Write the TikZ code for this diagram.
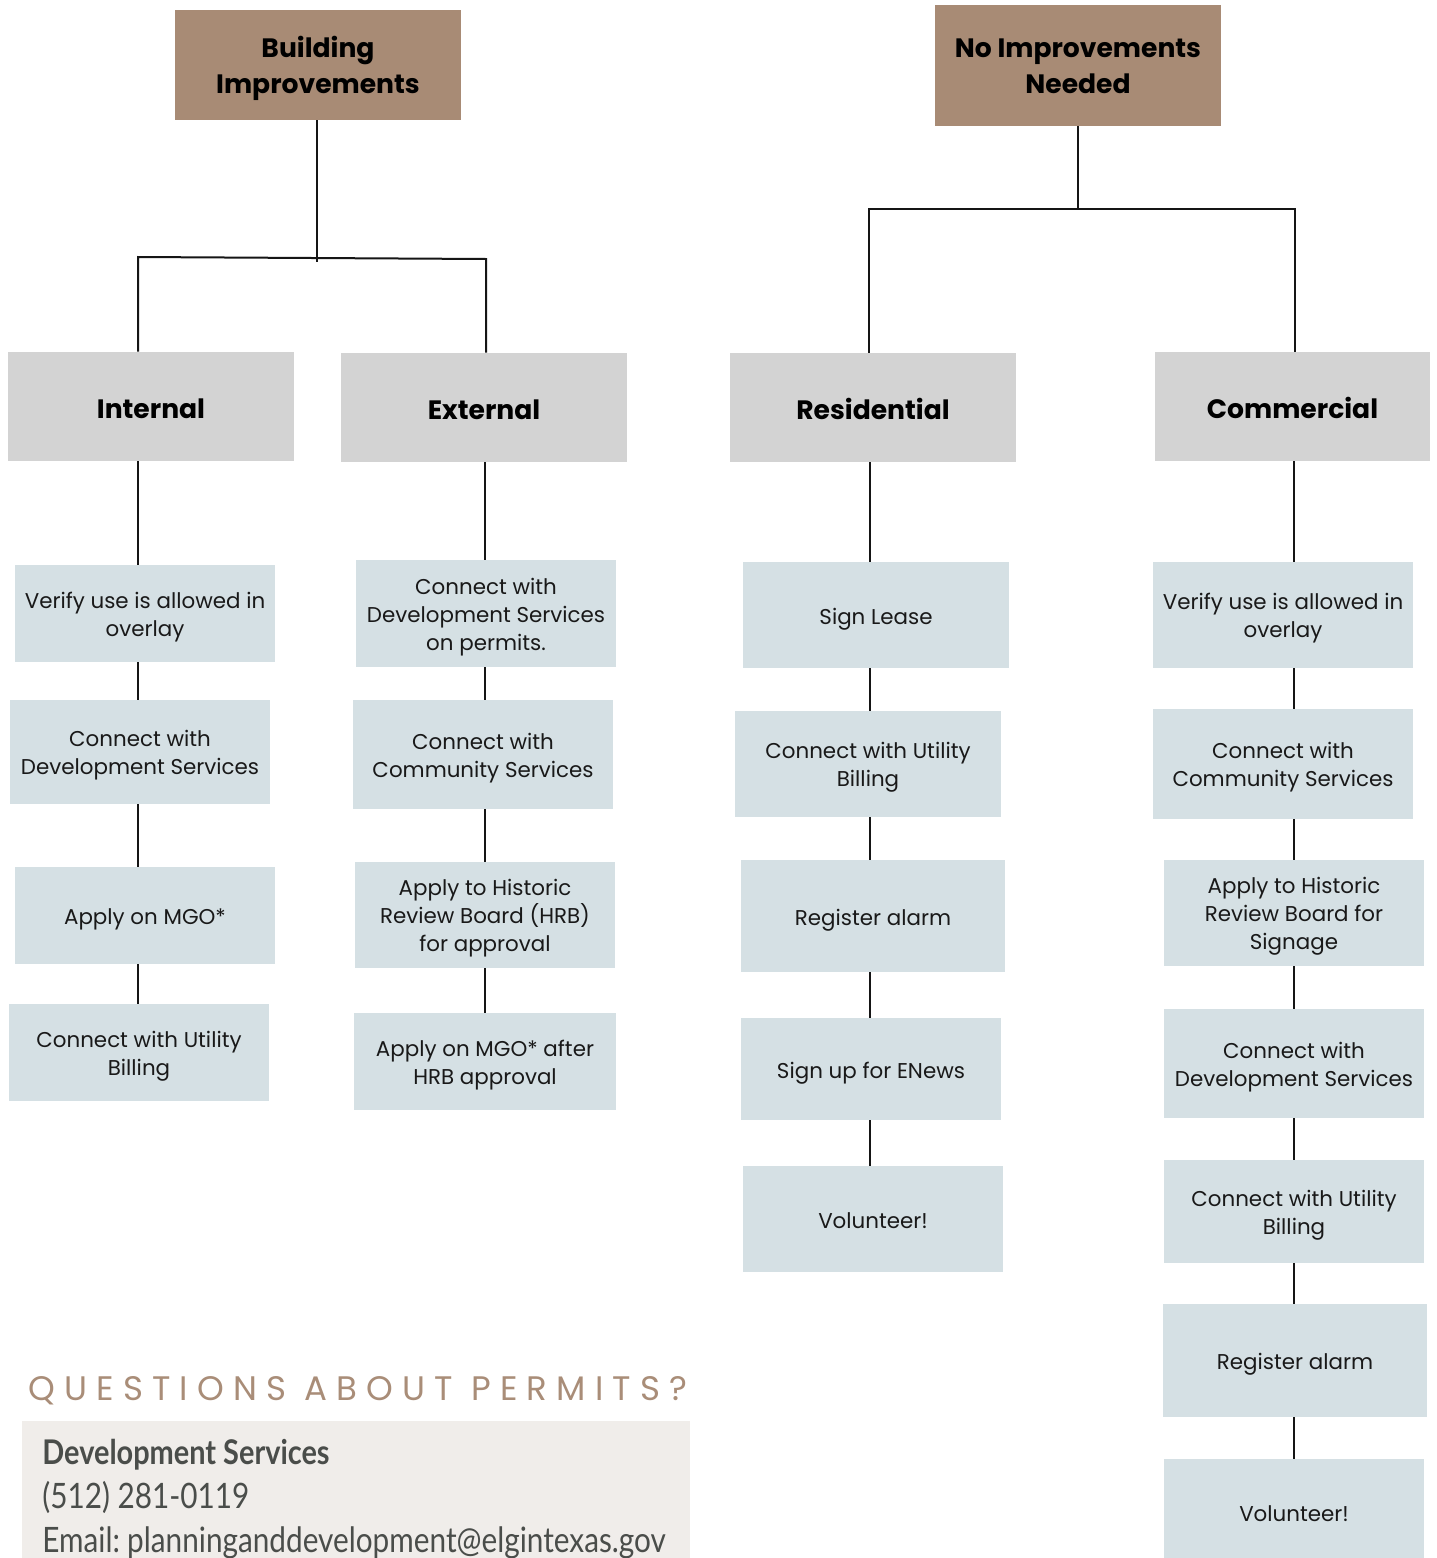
\documentclass[tikz,border=0pt]{standalone}
\usepackage{fontspec}
\setmainfont{Poppins}
\newfontfamily\contactfont[FakeStretch=0.85]{Lato}
\newfontfamily\qfont[LetterSpace=27]{Poppins}
\definecolor{tan}{HTML}{A88B75}
\definecolor{catgray}{HTML}{D3D3D3}
\definecolor{stepblue}{HTML}{D5E0E4}
\definecolor{contactbg}{HTML}{F0EDEA}
\definecolor{qcol}{HTML}{A98D78}
\definecolor{ctext}{HTML}{4A4D4A}
\definecolor{linecol}{HTML}{151515}
\tikzset{
  wh/.style 2 args={minimum width=#1*0.5pt, minimum height=#2*0.5pt},
  topbox/.style={fill=tan, inner sep=0pt, align=center, text=black,
    font=\fontsize{13.3}{18}\selectfont\bfseries, text height=28pt, text depth=0pt},
  catbox/.style={fill=catgray, inner sep=0pt, align=center, text=black,
    font=\fontsize{13.3}{18}\selectfont\bfseries, text height=12.3pt, text depth=0pt},
  stepbox/.style={fill=stepblue, inner sep=0pt, align=center, text=black!90,
    font=\fontsize{10.7}{14}\selectfont, text depth=0pt},
  l1/.style={text height=9pt},
  l2/.style={text height=22.5pt},
  l3/.style={text height=36.5pt},
  conn/.style={draw=linecol, line width=1pt},
}
\begin{document}
\begin{tikzpicture}[x=0.5pt, y=-0.5pt]
\useasboundingbox (0,0) rectangle (1436,1558);
\fill[white] (0,0) rectangle (1436,1558);

% top boxes
\node[topbox, wh={286}{110}] (bi) at (318,65) {Building\\Improvements};
\node[topbox, wh={286}{121}] (ni) at (1078,65.5) {No Improvements\\Needed};

% categories
\node[catbox, wh={286}{109}] (int) at (151,406.5) {Internal};
\node[catbox, wh={286}{109}] (ext) at (484,407.5) {External};
\node[catbox, wh={286}{109}] (res) at (873,407.5) {Residential};
\node[catbox, wh={275}{109}] (com) at (1292.5,406.5) {Commercial};

% internal
\node[stepbox, l2, wh={260}{97}]  (i1) at (145,613.5) {Verify use is allowed in\\overlay};
\node[stepbox, l2, wh={260}{104}] (i2) at (140,752) {Connect with\\Development Services};
\node[stepbox, l1, wh={260}{97}]  (i3) at (145,915.5) {Apply on MGO*};
\node[stepbox, l2, wh={260}{97}]  (i4) at (139,1052.5) {Connect with Utility\\Billing};

% external
\node[stepbox, l3, wh={260}{107}] (e1) at (486,613.5) {Connect with\\Development Services\\on permits.};
\node[stepbox, l2, wh={260}{109}] (e2) at (483,754.5) {Connect with\\Community Services};
\node[stepbox, l3, wh={260}{106}] (e3) at (485,915) {Apply to Historic\\Review Board (HRB)\\for approval};
\node[stepbox, l2, wh={262}{97}]  (e4) at (485,1061.5) {Apply on MGO* after\\HRB approval};

% residential
\node[stepbox, l1, wh={266}{106}] (r1) at (876,615) {Sign Lease};
\node[stepbox, l2, wh={266}{106}] (r2) at (868,764) {Connect with Utility\\Billing};
\node[stepbox, l1, wh={264}{112}] (r3) at (873,916) {Register alarm};
\node[stepbox, l1, wh={260}{102}] (r4) at (871,1069) {Sign up for ENews};
\node[stepbox, l1, wh={260}{106}] (r5) at (873,1219) {Volunteer!};

% commercial
\node[stepbox, l2, wh={260}{106}] (c1) at (1283,615) {Verify use is allowed in\\overlay};
\node[stepbox, l2, wh={260}{110}] (c2) at (1283,764) {Connect with\\Community Services};
\node[stepbox, l3, wh={260}{106}] (c3) at (1294,913) {Apply to Historic\\Review Board for\\Signage};
\node[stepbox, l2, wh={260}{109}] (c4) at (1294,1063.5) {Connect with\\Development Services};
\node[stepbox, l2, wh={260}{103}] (c5) at (1294,1211.5) {Connect with Utility\\Billing};
\node[stepbox, l1, wh={264}{113}] (c6) at (1295,1360.5) {Register alarm};
\node[stepbox, l1, wh={260}{106}] (c7) at (1294,1512) {Volunteer!};

% column coordinates
\coordinate (colI) at (138,0);
\coordinate (colE) at (485,0);
\coordinate (colR) at (870,0);
\coordinate (colC) at (1294,0);

% tree: building improvements
\coordinate (bL) at (138,257);
\coordinate (bR) at (486,259);
\coordinate (bM) at (317,262);
\draw[conn] (bi.south -| bM) -- (bM);
\draw[conn] (int.north -| bL) -- (bL) -- (bR) -- (ext.north -| bR);

% tree: no improvements
\coordinate (nL) at (869,209);
\coordinate (nR) at (1295,209);
\draw[conn] (ni.south) -- (ni.south |- nL);
\draw[conn] (res.north -| nL) -- (nL) -- (nR) -- (com.north -| nR);

% internal chain
\draw[conn] (int.south -| colI) -- (i1.north -| colI);
\draw[conn] (i1.south -| colI) -- (i2.north -| colI);
\draw[conn] (i2.south -| colI) -- (i3.north -| colI);
\draw[conn] (i3.south -| colI) -- (i4.north -| colI);
% external chain
\draw[conn] (ext.south -| colE) -- (e1.north -| colE);
\draw[conn] (e1.south -| colE) -- (e2.north -| colE);
\draw[conn] (e2.south -| colE) -- (e3.north -| colE);
\draw[conn] (e3.south -| colE) -- (e4.north -| colE);
% residential chain
\draw[conn] (res.south -| colR) -- (r1.north -| colR);
\draw[conn] (r1.south -| colR) -- (r2.north -| colR);
\draw[conn] (r2.south -| colR) -- (r3.north -| colR);
\draw[conn] (r3.south -| colR) -- (r4.north -| colR);
\draw[conn] (r4.south -| colR) -- (r5.north -| colR);
% commercial chain
\draw[conn] (com.south -| colC) -- (c1.north -| colC);
\draw[conn] (c1.south -| colC) -- (c2.north -| colC);
\draw[conn] (c2.south -| colC) -- (c3.north -| colC);
\draw[conn] (c3.south -| colC) -- (c4.north -| colC);
\draw[conn] (c4.south -| colC) -- (c5.north -| colC);
\draw[conn] (c5.south -| colC) -- (c6.north -| colC);
\draw[conn] (c6.south -| colC) -- (c7.north -| colC);

% contact
\node[anchor=base west, inner sep=0pt, text=qcol, font=\qfont\fontsize{17}{20}\selectfont] (qtitle) at (28,1400) {QUESTIONS ABOUT PERMITS?};
\fill[contactbg] (22,1421) rectangle (690,1570);
\node[anchor=base west, inner sep=0pt, text=ctext, font=\contactfont\fontsize{17}{20}\selectfont\bfseries] (cname) at (42,1464) {Development Services};
\node[anchor=base west, inner sep=0pt, text=ctext, font=\contactfont\fontsize{17.5}{20}\selectfont] (cphone) at (42,1508) {(512) 281-0119};
\node[anchor=base west, inner sep=0pt, text=ctext, font=\contactfont\fontsize{17.5}{20}\selectfont] (cmail) at (42,1552) {Email:\hspace{-1.5pt} planninganddevelopment@elgintexas.gov};
\end{tikzpicture}
\end{document}
